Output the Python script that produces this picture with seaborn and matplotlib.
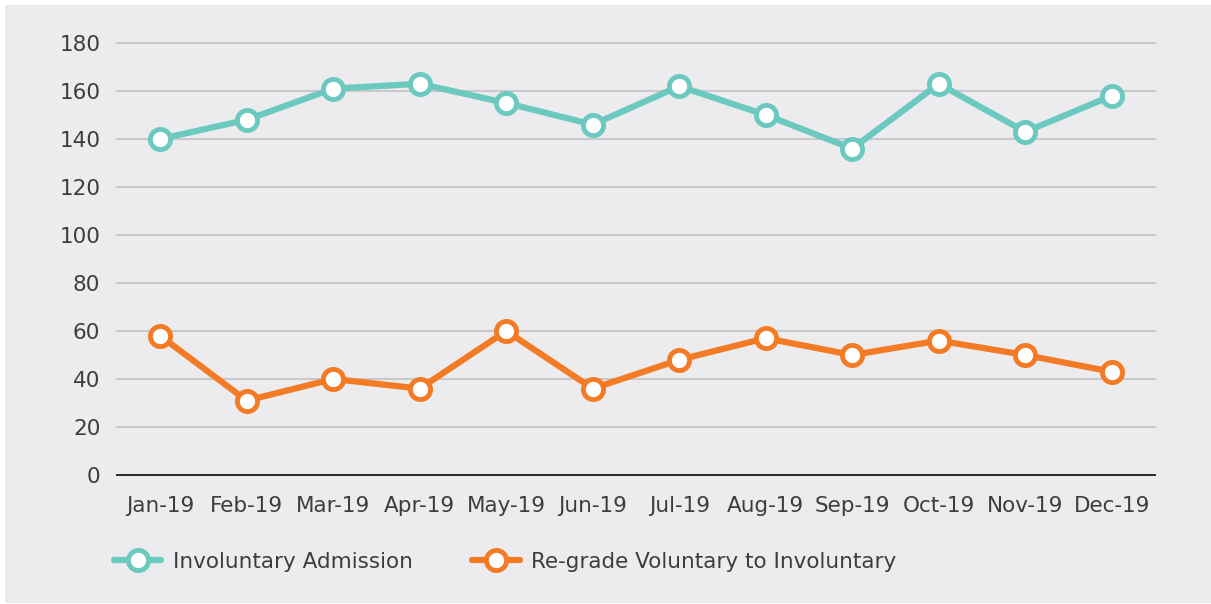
import pandas as pd
import numpy as np
import matplotlib.pyplot as plt
import seaborn as sns
from matplotlib.patches import Rectangle

# chart data
months = ['Jan-19', 'Feb-19', 'Mar-19', 'Apr-19', 'May-19', 'Jun-19',
          'Jul-19', 'Aug-19', 'Sep-19', 'Oct-19', 'Nov-19', 'Dec-19']
involuntary = [140, 148, 161, 163, 155, 146, 162, 150, 136, 163, 143, 158]
regrade = [58, 31, 40, 36, 60, 36, 48, 57, 50, 56, 50, 43]
series_names = ['Involuntary Admission', 'Re-grade Voluntary to Involuntary']
yticks = [0, 20, 40, 60, 80, 100, 120, 140, 160, 180]

teal = '#6cc9c0'
orange = '#f47b25'
bg = '#ececee'
text_col = '#3d3d3d'

sns.set_style('white')
plt.rcParams['font.family'] = ['DejaVu Sans']

W, H = 1211, 604
fig = plt.figure(figsize=(W / 100, H / 100), dpi=100, facecolor='white')
# grey panel with a thin white margin, like the reference
fig.patches.append(Rectangle((5 / W, 1 / H), 1 - 5 / W, (H - 6) / H,
                             transform=fig.transFigure, facecolor=bg,
                             edgecolor='none', zorder=-10))

ax = fig.add_axes([117 / W, 1 - 475 / H, (1155 - 117) / W, (475 - 43) / H])
ax.set_facecolor('none')

df = pd.DataFrame({'month': months * 2,
                   'value': involuntary + regrade,
                   'series': [series_names[0]] * 12 + [series_names[1]] * 12})

for name, col in zip(series_names, [teal, orange]):
    sub = df[df['series'] == name]
    sns.lineplot(data=sub, x='month', y='value', ax=ax, color=col,
                 linewidth=4.5, marker='o', markersize=14.5,
                 markerfacecolor='white', markeredgecolor=col,
                 markeredgewidth=3.5, label=name, legend=False,
                 sort=False, clip_on=False, zorder=3)

ax.set_xlim(-0.5, len(months) - 0.5)
ax.set_ylim(0, 180)
ax.set_yticks(yticks)
ax.set_yticklabels([str(t) for t in yticks])
ax.grid(axis='y', color='#c9c9cb', linewidth=1.5)
ax.grid(axis='x', visible=False)
for gl in ax.yaxis.get_gridlines():
    gl.set_clip_on(False)
ax.set_axisbelow(True)
for s in ['top', 'right', 'left']:
    ax.spines[s].set_visible(False)
ax.spines['bottom'].set_color('#2a2a2a')
ax.spines['bottom'].set_linewidth(1.4)
ax.spines['bottom'].set_zorder(2)
ax.tick_params(axis='both', length=0, labelsize=15.5, colors=text_col)
ax.tick_params(axis='y', pad=12)
ax.tick_params(axis='x', pad=15)
ax.set_xlabel('')
ax.set_ylabel('')

handles, labels = ax.get_legend_handles_labels()
fig.legend(handles, labels, loc='center left',
           bbox_to_anchor=(114 / W, 1 - 562 / H), ncol=2, frameon=False,
           fontsize=15.5, labelcolor=text_col, handlelength=2.2,
           handletextpad=0.55, columnspacing=2.75, borderpad=0,
           borderaxespad=0)

fig.savefig('out.png', dpi=100, facecolor='white')
